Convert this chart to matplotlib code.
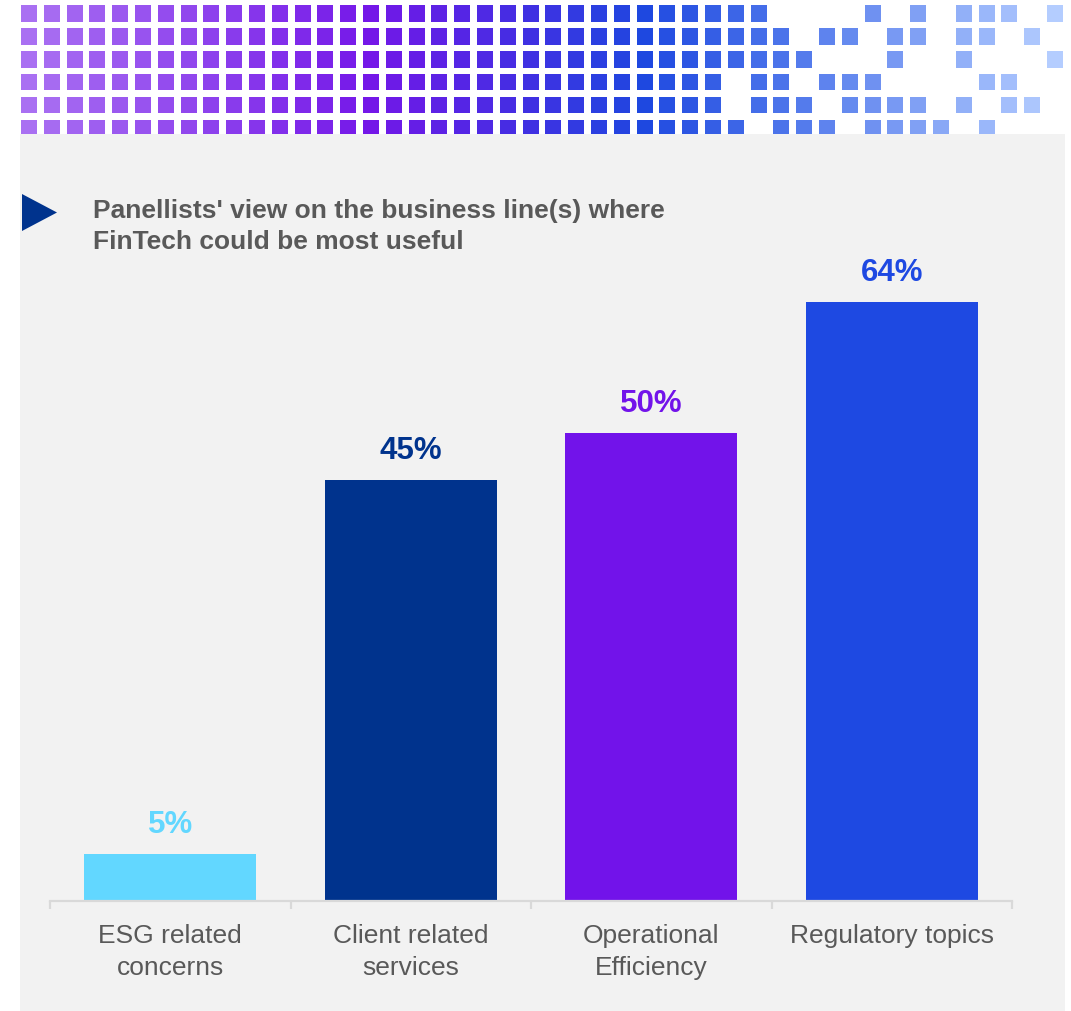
import matplotlib
matplotlib.use("Agg")
import matplotlib.pyplot as plt
from matplotlib.patches import Rectangle, Polygon
from matplotlib.colors import LinearSegmentedColormap

plt.rcParams['font.family'] = ['Liberation Sans', 'DejaVu Sans']

# ---- data ----
categories = ["ESG related\nconcerns", "Client related\nservices",
              "Operational\nEfficiency", "Regulatory topics"]
values = [5, 45, 50, 64]
bar_colors = ["#62D7FF", "#00338D", "#7213EA", "#1E49E2"]
title = "Panellists' view on the business line(s) where\nFinTech could be most useful"

# header mosaic: each row lists which of the 46 columns hold a tile
mosaic_rows = [
    list(range(0, 33)) + [37, 39, 41, 42, 43, 45],
    list(range(0, 34)) + [35, 36, 38, 39, 41, 42, 44],
    list(range(0, 35)) + [38, 41, 45],
    list(range(0, 31)) + [32, 33, 35, 36, 37, 42, 43],
    list(range(0, 31)) + [32, 33, 34, 36, 37, 38, 39, 41, 43, 44],
    list(range(0, 32)) + [33, 34, 35, 37, 38, 39, 40, 42],
]
n_cols = 46
mosaic_cmap = LinearSegmentedColormap.from_list(
    "mosaic",
    [(0.0, "#A970F2"), (15 / 45, "#7417E8"), (22 / 45, "#3F30E2"),
     (27 / 45, "#1E48E0"), (33 / 45, "#4B73EA"), (1.0, "#B4CDFF")])

W, H = 1071, 1012
fig = plt.figure(figsize=(W / 100, H / 100), dpi=100)
fig.patch.set_facecolor("white")

# background layer in pixel units (origin top-left)
bg = fig.add_axes([0, 0, 1, 1], zorder=0)
bg.set_xlim(0, W)
bg.set_ylim(H, 0)
bg.axis("off")

tile_w, tile_h = 16, 16.7
for r, cols in enumerate(mosaic_rows):
    for c in cols:
        bg.add_patch(Rectangle((21 + 22.8 * c, 6 + 22.9 * r), tile_w, tile_h,
                               facecolor=mosaic_cmap(c / (n_cols - 1)),
                               edgecolor="none", zorder=1))

# grey panel
bg.add_patch(Rectangle((20, 135), 1045, H - 135, facecolor="#F2F2F2",
                       edgecolor="none", zorder=2))

# title marker and title
bg.add_patch(Polygon([(22, 195), (57, 213.5), (22, 232)], closed=True,
                     facecolor="#00338D", edgecolor="none", zorder=3))
bg.text(93, 226.5, title, fontsize=19, fontweight="bold", color="#595959",
        ha="left", va="center", linespacing=1.36, zorder=3)

# ---- bar chart ----
ax = fig.add_axes([50 / W, 110 / H, 962 / W, 655 / H], zorder=1)
ax.patch.set_alpha(0)
x = list(range(len(categories)))
bars = ax.bar(x, values, width=0.715, color=bar_colors, zorder=2)
ax.set_xlim(-0.5, len(categories) - 0.5)
ax.set_ylim(0, 70)

for rect, v, col in zip(bars, values, bar_colors):
    ax.annotate(f"{v}%", (rect.get_x() + rect.get_width() / 2, v),
                xytext=(0, 21.5), textcoords="offset points",
                ha="center", va="center", fontsize=22.5, fontweight="bold",
                color=col)

for s in ["top", "right", "left"]:
    ax.spines[s].set_visible(False)
ax.spines["bottom"].set_color("#D9D9D9")
ax.spines["bottom"].set_linewidth(1.6)
ax.set_yticks([])

ax.set_xticks(x)
ax.set_xticklabels(categories, fontsize=19, color="#595959", linespacing=1.4)
ax.tick_params(axis="x", which="major", length=0, pad=16)
ax.set_xticks([i - 0.5 for i in range(len(categories) + 1)], minor=True)
ax.tick_params(axis="x", which="minor", length=6, width=1.6, color="#D9D9D9")

fig.savefig("out.png", dpi=100, facecolor=fig.get_facecolor())
